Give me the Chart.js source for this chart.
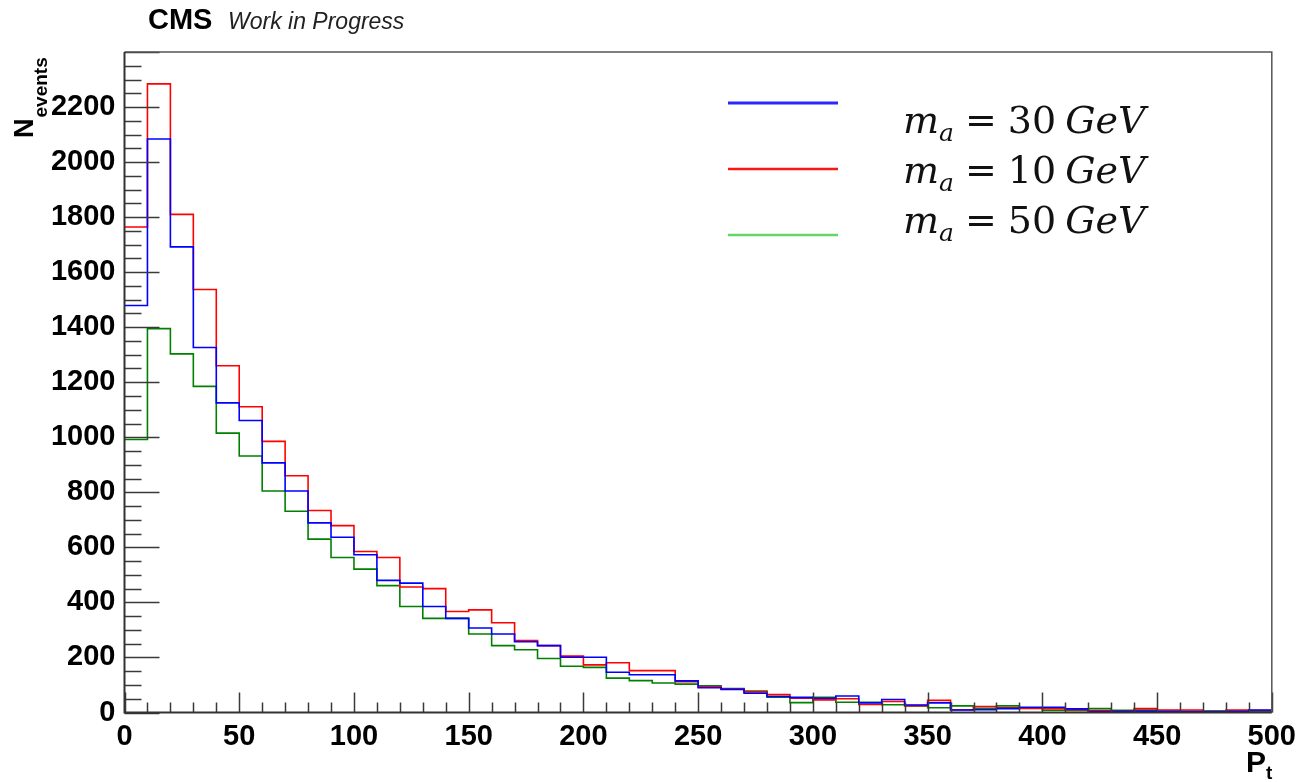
<!DOCTYPE html>
<html>
<head>
<meta charset="utf-8">
<title>P_t distribution</title>
<script src="https://cdn.jsdelivr.net/npm/chart.js@4/dist/chart.umd.min.js"></script>
<style>
  html, body { margin: 0; padding: 0; background: #fff; }
  #wrap { position: relative; width: 1303px; height: 782px; }
</style>
</head>
<body>
<div id="wrap"><canvas id="chartPt" width="1303" height="782"></canvas></div>
<script>
// bin edges in P_t (GeV), 10 GeV bins
const binEdges = [0, 10, 20, 30, 40, 50, 60, 70, 80, 90,
  100, 110, 120, 130, 140, 150, 160, 170, 180, 190,
  200, 210, 220, 230, 240, 250, 260, 270, 280, 290,
  300, 310, 320, 330, 340, 350, 360, 370, 380, 390,
  400, 410, 420, 430, 440, 450, 460, 470, 480, 490, 500];

// events per bin, m_a = 30 GeV
const ma30 = [1479, 2084, 1692, 1326, 1125, 1061, 907, 805, 689, 637,
  573, 480, 470, 385, 342, 307, 285, 257, 243, 201,
  201, 146, 137, 137, 115, 90, 84, 70, 58, 55,
  52, 60, 35, 47, 27, 35, 9, 10, 14, 19,
  19, 13, 3, 4, 5, 4, 3, 3, 4, 9];

// events per bin, m_a = 10 GeV
const ma10 = [1764, 2284, 1810, 1537, 1260, 1111, 985, 860, 734, 679,
  585, 563, 456, 450, 367, 373, 326, 261, 243, 205,
  173, 181, 152, 152, 112, 93, 85, 75, 65, 52,
  46, 50, 29, 40, 25, 44, 10, 22, 17, 15,
  14, 10, 7, 4, 14, 9, 9, 3, 9, 7];

// events per bin, m_a = 50 GeV
const ma50 = [992, 1395, 1303, 1185, 1015, 932, 805, 731, 630, 563,
  521, 461, 385, 342, 342, 285, 243, 228, 196, 168,
  164, 125, 116, 107, 103, 97, 87, 78, 56, 36,
  55, 37, 37, 28, 24, 17, 24, 15, 24, 17,
  8, 7, 14, 8, 9, 3, 3, 5, 4, 4];

const xTicks = [0, 50, 100, 150, 200, 250, 300, 350, 400, 450, 500];
const yTicks = [0, 200, 400, 600, 800, 1000, 1200, 1400, 1600, 1800, 2000, 2200];
const xMax = 500;
const yMax = 2400;

const massLabels = ['30', '10', '50'];
const lineColors = ['rgb(0,0,255)', 'rgb(255,0,0)', 'rgb(0,128,0)'];
const legendColors = ['rgb(40,40,255)', 'rgb(255,20,20)', 'rgb(100,215,100)'];

const SANS = '"Liberation Sans", Arial, Helvetica, sans-serif';

// histogram -> step points (last edge repeats the last bin)
function toSteps(values) {
  const pts = values.map((v, i) => ({ x: binEdges[i], y: v }));
  pts.push({ x: binEdges[binEdges.length - 1], y: values[values.length - 1] });
  return pts;
}

// ROOT-like ticks drawn inside the frame, plus frame, titles and legend
const rootFrame = {
  id: 'rootFrame',
  afterDatasetsDraw(chart) {
    const { ctx, chartArea: a, scales: { x, y } } = chart;
    ctx.save();

    // ticks
    ctx.strokeStyle = '#3a3a3a';
    ctx.lineWidth = 1.5;
    ctx.beginPath();
    for (let v = 0; v <= xMax; v += 10) {
      const px = Math.round(x.getPixelForValue(v)) + 0.5;
      const len = v % 50 === 0 ? 20 : 10;
      ctx.moveTo(px, a.bottom);
      ctx.lineTo(px, a.bottom - len);
    }
    for (let v = 0; v <= yMax; v += 50) {
      const py = Math.round(y.getPixelForValue(v)) + 0.5;
      const len = v % 200 === 0 ? 35 : 17;
      ctx.moveTo(a.left, py);
      ctx.lineTo(a.left + len, py);
    }
    ctx.stroke();

    // frame top/right
    ctx.strokeStyle = '#555';
    ctx.lineWidth = 1.5;
    ctx.beginPath();
    ctx.moveTo(a.left, a.top);
    ctx.lineTo(a.right, a.top);
    ctx.lineTo(a.right, a.bottom);
    ctx.stroke();

    // axes
    ctx.strokeStyle = '#333';
    ctx.lineWidth = 2;
    ctx.beginPath();
    ctx.moveTo(a.left, a.top);
    ctx.lineTo(a.left, a.bottom);
    ctx.lineTo(a.right, a.bottom);
    ctx.stroke();

    ctx.restore();
  },
  afterDraw(chart) {
    const { ctx } = chart;
    ctx.save();
    ctx.fillStyle = '#000';
    ctx.textBaseline = 'alphabetic';

    // CMS label
    ctx.font = 'bold 29px ' + SANS;
    ctx.fillText('CMS', 148, 29);
    ctx.font = 'italic 23px ' + SANS;
    ctx.fillStyle = '#222';
    ctx.fillText('Work in Progress', 228, 29);
    ctx.fillStyle = '#000';

    // y title N_events
    ctx.save();
    ctx.translate(33, 138);
    ctx.rotate(-Math.PI / 2);
    ctx.font = 'bold 27px ' + SANS;
    ctx.fillText('N', 0, 0);
    const wN = ctx.measureText('N').width;
    ctx.font = 'bold 19px ' + SANS;
    ctx.fillText('events', wN + 1, 14);
    ctx.restore();

    // x title P_t
    ctx.font = 'bold 30px ' + SANS;
    ctx.fillText('P', 1246, 772);
    const wP = ctx.measureText('P').width;
    ctx.font = 'bold 19px ' + SANS;
    ctx.fillText('t', 1246 + wP, 779);

    // legend
    const lineY = [103, 169, 235];
    const lineW = [3, 2.5, 2.5];
    const textY = [133, 183, 233];
    const SERIF = '"DejaVu Serif", "Liberation Serif", serif';
    massLabels.forEach((m, i) => {
      ctx.strokeStyle = legendColors[i];
      ctx.lineWidth = lineW[i];
      ctx.beginPath();
      ctx.moveTo(728, lineY[i]);
      ctx.lineTo(838, lineY[i]);
      ctx.stroke();

      let tx = 903;
      const ty = textY[i];
      ctx.fillStyle = '#111';
      ctx.font = 'italic 38px ' + SERIF;
      ctx.fillText('m', tx, ty);
      tx += ctx.measureText('m').width;
      ctx.font = 'italic 25px ' + SERIF;
      ctx.fillText('a', tx, ty + 8);
      tx += ctx.measureText('a').width + 11;
      ctx.font = '38px ' + SERIF;
      ctx.fillText('=', tx, ty);
      tx += ctx.measureText('=').width + 11;
      ctx.fillText(m, tx, ty);
      tx += ctx.measureText(m).width + 9;
      ctx.font = 'italic 38px ' + SERIF;
      ctx.fillText('GeV', tx, ty);
    });

    ctx.restore();
  }
};

const datasets = [ma30, ma10, ma50].map((vals, i) => ({
  label: 'm_a = ' + massLabels[i] + ' GeV',
  data: toSteps(vals),
  borderColor: lineColors[i],
  borderWidth: 1.6,
  stepped: 'before',
  pointRadius: 0,
  fill: false,
  tension: 0
}));

new Chart(document.getElementById('chartPt').getContext('2d'), {
  type: 'line',
  data: { datasets },
  options: {
    responsive: false,
    animation: false,
    layout: { padding: { left: 0, top: 52, right: 31, bottom: 0 } },
    plugins: {
      legend: { display: false },
      tooltip: { enabled: false }
    },
    scales: {
      x: {
        type: 'linear',
        min: 0,
        max: xMax,
        afterBuildTicks: s => { s.ticks = xTicks.map(v => ({ value: v })); },
        afterFit: s => { s.height = 69.5; },
        ticks: {
          callback: v => String(v),
          color: '#000',
          padding: 7,
          maxRotation: 0,
          font: { family: SANS, size: 29, weight: 'bold' }
        },
        grid: { display: false, drawTicks: false },
        border: { display: false }
      },
      y: {
        type: 'linear',
        min: 0,
        max: yMax,
        afterBuildTicks: s => { s.ticks = yTicks.map(v => ({ value: v })); },
        afterFit: s => { s.width = 124.5; },
        ticks: {
          callback: v => String(v),
          color: '#000',
          padding: 9,
          font: { family: SANS, size: 29, weight: 'bold' }
        },
        grid: { display: false, drawTicks: false },
        border: { display: false }
      }
    }
  },
  plugins: [rootFrame]
});
</script>
</body>
</html>
